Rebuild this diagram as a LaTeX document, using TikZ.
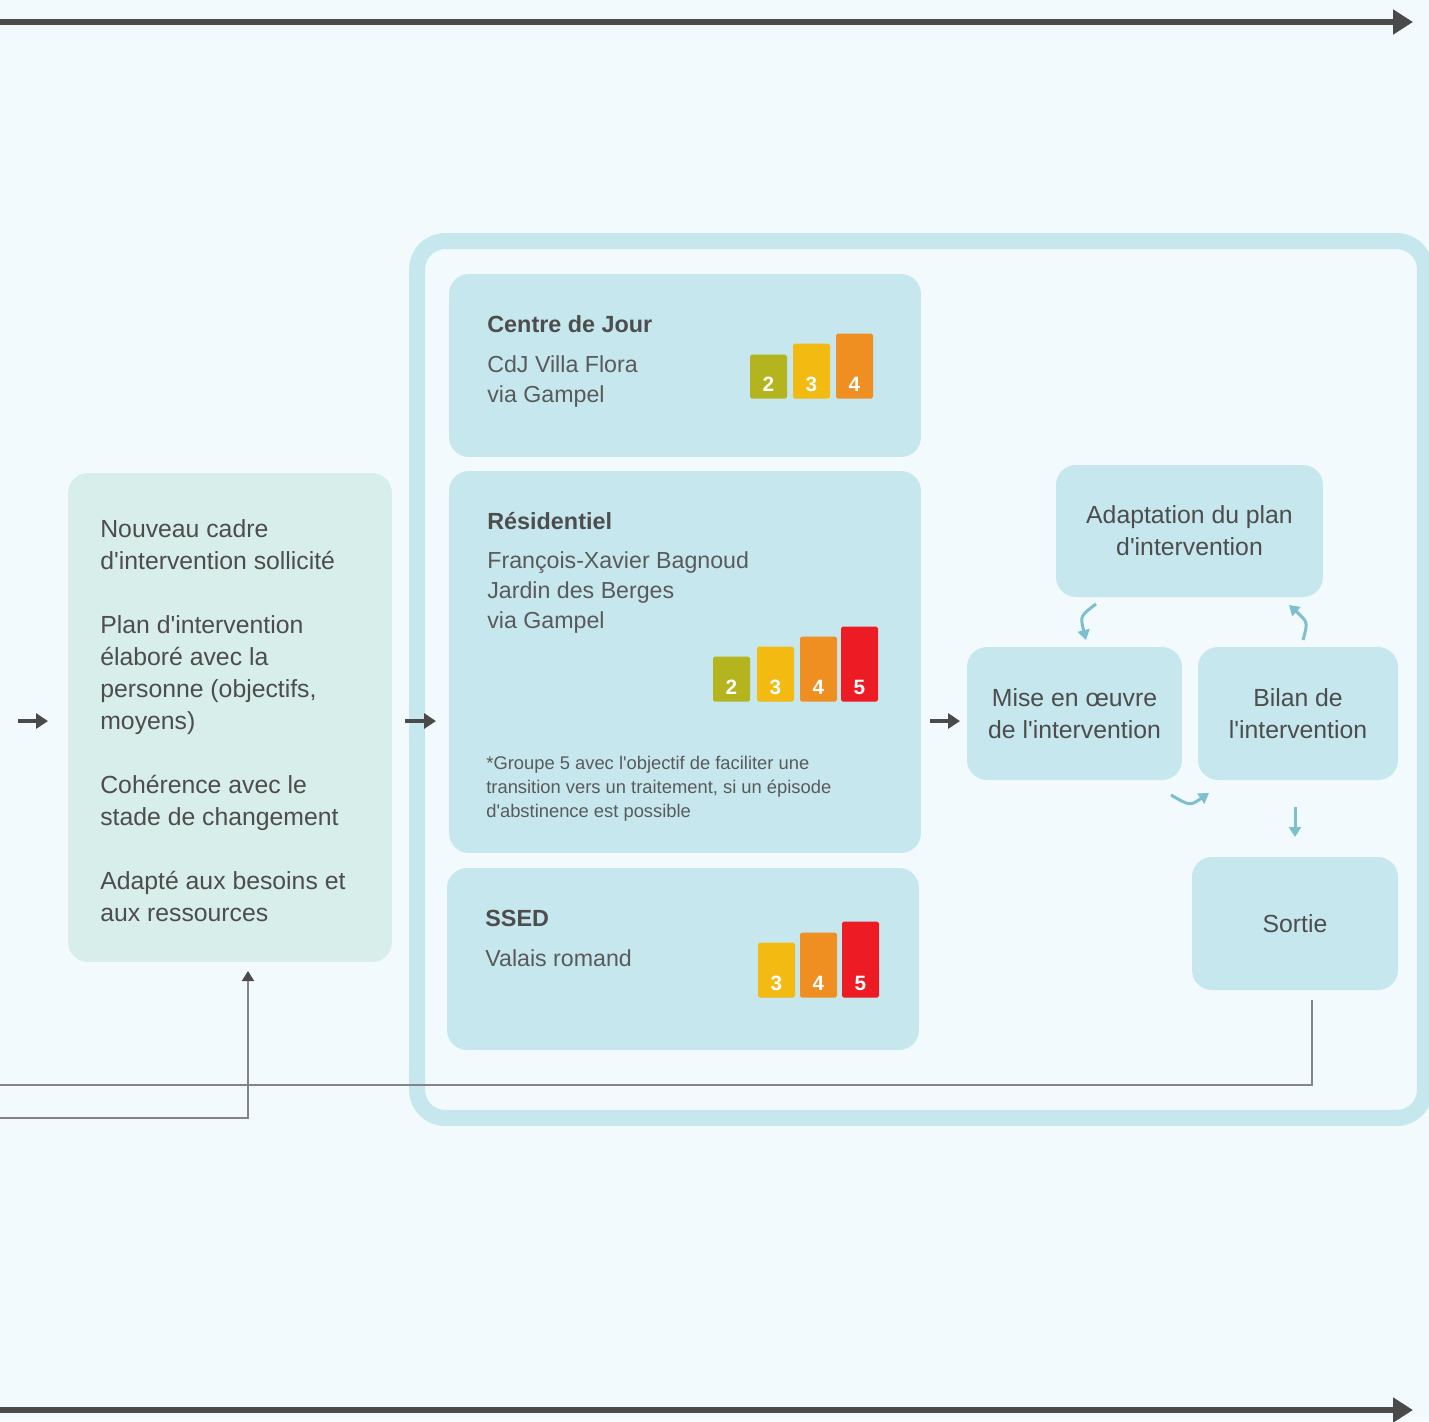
\documentclass[tikz,border=0pt]{standalone}
\usepackage{fontspec}
\setmainfont{Liberation Sans}
\usetikzlibrary{arrows.meta,positioning}

\definecolor{bgblue}{HTML}{F2FAFD}
\definecolor{boxblue}{HTML}{C5E7ED}
\definecolor{boxgreen}{HTML}{D8EEEA}
\definecolor{darkline}{HTML}{4A4A4A}
\definecolor{greyline}{HTML}{858585}
\definecolor{cycblue}{HTML}{7DBFCC}
\definecolor{txtgrey}{HTML}{4D4D4D}
\definecolor{lightgrey}{HTML}{5A5A5A}
\definecolor{barolive}{HTML}{B3B41E}
\definecolor{baryellow}{HTML}{F3BA11}
\definecolor{barorange}{HTML}{EF8E21}
\definecolor{barred}{HTML}{ED1C24}

\newcommand{\apo}{\textquotesingle}

\tikzset{
	box/.style={rounded corners=0.4cm, fill=boxblue, inner sep=0pt, align=center, text=txtgrey, font=\fontsize{14.1}{18.2}\selectfont},
	bodytext/.style={anchor=base west, inner sep=0pt, align=left, text=txtgrey, font=\fontsize{14.1}{18.2}\selectfont},
	headtext/.style={anchor=base west, inner sep=0pt, text=txtgrey, font=\bfseries\fontsize{13.3}{18.2}\selectfont},
	subtext/.style={anchor=base west, inner sep=0pt, align=left, text=lightgrey, font=\fontsize{13.2}{17.07}\selectfont},
	notetext/.style={anchor=base west, inner sep=0pt, align=left, text=lightgrey, font=\fontsize{10.45}{13.66}\selectfont},
	bar/.style={anchor=south, minimum width=0.74cm, inner sep=0pt, rounded corners=1pt},
	barnum/.style={anchor=base, inner sep=0pt, text=white, font=\bfseries\fontsize{11.8}{12}\selectfont},
	timeline/.style={draw=darkline, line width=0.12cm, -{Triangle[length=0.4cm,width=0.48cm]}},
	flow/.style={draw=darkline, line width=0.08cm, -{Triangle[length=0.24cm,width=0.3cm]}},
	cyc/.style={draw=cycblue, line width=0.06cm, -{Triangle[length=0.2cm,width=0.24cm]}},
	feedback/.style={draw=greyline, line width=0.04cm}
}

\begin{document}
\begin{tikzpicture}[x=0.02cm,y=-0.02cm]
		\fill[bgblue] (0,0) rectangle (1429,1421);
		\useasboundingbox (0,0) rectangle (1429,1421);

		% time lines
		\coordinate (top1) at (0,22);
		\coordinate (top2) at (1413,22);
		\coordinate (bot1) at (0,1410);
		\coordinate (bot2) at (1413,1410);
		\draw[timeline] (top1) -- (top2);
		\draw[timeline] (bot1) -- (bot2);

		% left box (text nodes sit on the baseline of their last line)
		\draw (230,717.5) node [box, fill=boxgreen, minimum width=6.48cm, minimum height=9.78cm] (cadre) {};
		\draw (100,569) node [bodytext] (cadre1) {Nouveau cadre\\d\apo intervention sollicité};
		\draw (100,729) node [bodytext] (cadre2) {Plan d\apo intervention\\élaboré avec la\\personne (objectifs,\\moyens)};
		\draw (100,825) node [bodytext] (cadre3) {Cohérence avec le\\stade de changement};
		\draw (100,921) node [bodytext] (cadre4) {Adapté aux besoins et\\aux ressources};

		% big frame
		\draw (921,679.5) node [draw=boxblue, line width=0.32cm, rounded corners=0.56cm, minimum width=20.16cm, minimum height=17.54cm] (frame) {};

		% Centre de Jour
		\draw (685,365.5) node [box, minimum width=9.44cm, minimum height=3.66cm] (cdj) {};
		\draw (487,332) node [headtext] (cdjhead) {Centre de Jour};
		\draw (487,402) node [subtext] (cdjsub) {CdJ Villa Flora\\via Gampel};
		\draw (768.5,399) node [bar, fill=barolive, minimum height=0.88cm] (cdj2) {};
		\draw (811.5,399) node [bar, fill=baryellow, minimum height=1.1cm] (cdj3) {};
		\draw (854.5,399) node [bar, fill=barorange, minimum height=1.3cm] (cdj4) {};
		\draw (cdj2.south) ++(0,-8) node [barnum] {2};
		\draw (cdj3.south) ++(0,-8) node [barnum] {3};
		\draw (cdj4.south) ++(0,-8) node [barnum] {4};

		% Residentiel
		\draw (685,662) node [box, minimum width=9.44cm, minimum height=7.64cm] (res) {};
		\draw (487,529) node [headtext] (reshead) {Résidentiel};
		\draw (487,628) node [subtext] (ressub) {François-Xavier Bagnoud\\Jardin des Berges\\via Gampel};
		\draw (731.5,702) node [bar, fill=barolive, minimum height=0.9cm] (res2) {};
		\draw (775.5,702) node [bar, fill=baryellow, minimum height=1.1cm] (res3) {};
		\draw (818.5,702) node [bar, fill=barorange, minimum height=1.3cm] (res4) {};
		\draw (859.5,702) node [bar, fill=barred, minimum height=1.5cm] (res5) {};
		\draw (res2.south) ++(0,-8) node [barnum] {2};
		\draw (res3.south) ++(0,-8) node [barnum] {3};
		\draw (res4.south) ++(0,-8) node [barnum] {4};
		\draw (res5.south) ++(0,-8) node [barnum] {5};
		\draw (486,817) node [notetext] (resnote) {*Groupe 5 avec l\apo objectif de faciliter une\\transition vers un traitement, si un épisode\\d\apo abstinence est possible};

		% SSED
		\draw (683,959) node [box, minimum width=9.44cm, minimum height=3.64cm] (ssed) {};
		\draw (485,926) node [headtext] (ssedhead) {SSED};
		\draw (485,966) node [subtext] (ssedsub) {Valais romand};
		\draw (776.5,998) node [bar, fill=baryellow, minimum height=1.1cm] (ssed3) {};
		\draw (818.5,998) node [bar, fill=barorange, minimum height=1.3cm] (ssed4) {};
		\draw (860.5,998) node [bar, fill=barred, minimum height=1.52cm] (ssed5) {};
		\draw (ssed3.south) ++(0,-8) node [barnum] {3};
		\draw (ssed4.south) ++(0,-8) node [barnum] {4};
		\draw (ssed5.south) ++(0,-8) node [barnum] {5};

		% cycle
		\draw (1189.5,531) node [box, minimum width=5.34cm, minimum height=2.64cm] (adapt) {Adaptation du plan\\d\apo intervention};
		\draw (1074.5,713.5) node [box, minimum width=4.3cm, minimum height=2.66cm] (mise) {Mise en œuvre\\de l\apo intervention};
		\draw (1298,713.5) node [box, minimum width=4cm, minimum height=2.66cm] (bilan) {Bilan de\\l\apo intervention};
		\draw (1295,923.5) node [box, minimum width=4.12cm, minimum height=2.66cm] (sortie) {Sortie};

		\coordinate (c1a) at (1096,604);
		\coordinate (c1b) at (1086,640);
		\coordinate (c2a) at (1303,640);
		\coordinate (c2b) at (1289,605);
		\coordinate (c3a) at (1171,795);
		\coordinate (c3b) at (1209,793);
		\coordinate (c4a) at (1295,807);
		\coordinate (c4b) at (1295,837);
		\draw[cyc] (c1a) .. controls (1080,616) .. (c1b);
		\draw[cyc] (c2a) .. controls (1308,622) .. (c2b);
		\draw[cyc] (c3a) .. controls (1190,806) .. (c3b);
		\draw[cyc] (c4a) -- (c4b);

		% flow arrows
		\coordinate (f1a) at (18,721);
		\coordinate (f1b) at (48,721);
		\coordinate (f2a) at (405,721);
		\coordinate (f2b) at (436,721);
		\coordinate (f3a) at (930,721);
		\coordinate (f3b) at (960,721);
		\draw[flow] (f1a) -- (f1b);
		\draw[flow] (f2a) -- (f2b);
		\draw[flow] (f3a) -- (f3b);

		% feedback lines
		\coordinate (fb1) at (1312,1000);
		\coordinate (fb2) at (0,1085);
		\coordinate (fb3) at (0,1118);
		\coordinate (fb4) at (248,971);
		\draw[feedback] (fb1) |- (fb2);
		\draw[feedback, -{Triangle[length=0.2cm,width=0.24cm,color=darkline]}] (fb3) -| (fb4);
	\end{tikzpicture}
\end{document}
